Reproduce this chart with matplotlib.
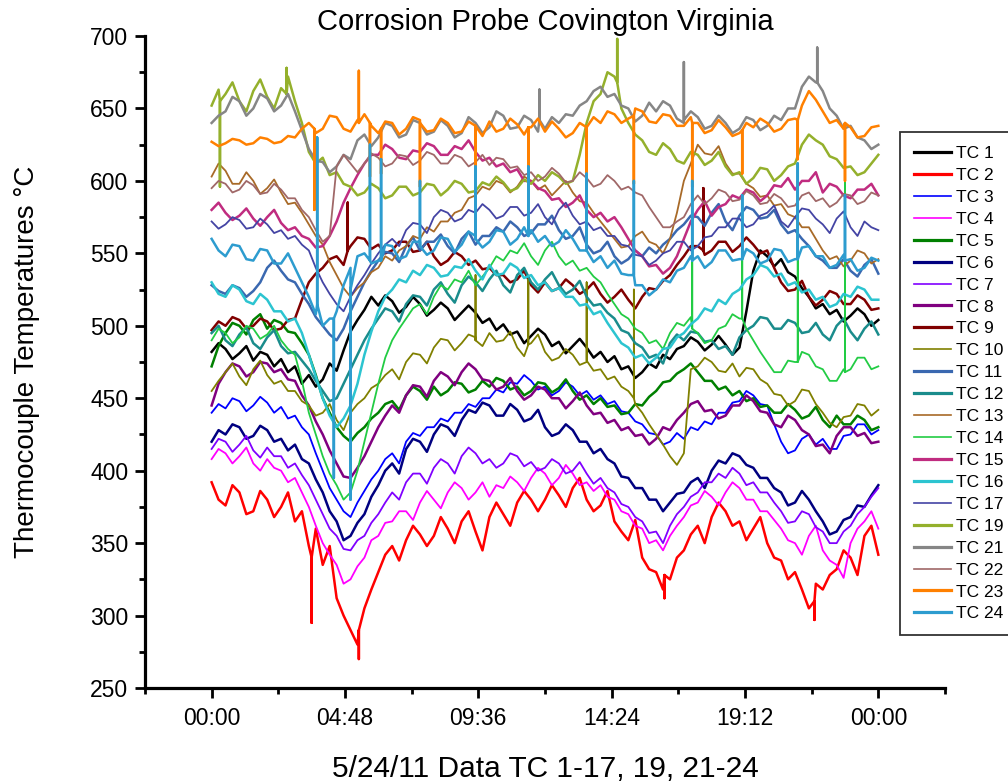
import numpy as np
import matplotlib
matplotlib.use("Agg")
import matplotlib.pyplot as plt
from matplotlib.ticker import FixedLocator, NullFormatter

plt.rcParams['font.family'] = ['Liberation Sans', 'DejaVu Sans']

# quarter-hour readings, hours after midnight 5/24/11
hours = np.arange(0, 24.01, 0.25)

labels = ["TC 1", "TC 2", "TC 3", "TC 4", "TC 5", "TC 6", "TC 7", "TC 8", "TC 9",
          "TC 10", "TC 11", "TC 12", "TC 13", "TC 14", "TC 15", "TC 16", "TC 17",
          "TC 19", "TC 21", "TC 22", "TC 23", "TC 24"]

colors = ["#000000", "#ff0000", "#0000ff", "#ff00ff", "#008000", "#000080", "#8000ff",
          "#800080", "#800000", "#808000", "#3a68b0", "#1a8c8c", "#a86a28", "#22cc44",
          "#c02c80", "#2cc4d0", "#4444a4", "#94b02c", "#868686", "#a06868", "#ff8000",
          "#2d9ccf"]

# heavy / light pen per channel
heavy = [True, True, False, False, True, True, False, True, True, False, True, True,
         False, False, True, True, False, True, True, False, True, True]

tc1 = [482, 488, 484, 477, 481, 486, 476, 482, 480, 472, 477, 468, 472, 460, 466, 458,
       463, 474, 469, 483, 496, 504, 511, 520, 514, 521, 517, 509, 513, 520, 515, 507,
       511, 516, 512, 504, 509, 514, 509, 502, 505, 497, 501, 494, 496, 488, 493, 498,
       494, 486, 489, 481, 486, 491, 485, 478, 482, 475, 479, 470, 472, 464, 468, 474,
       471, 480, 477, 484, 486, 492, 489, 483, 487, 493, 487, 480, 485, 510, 538, 552,
       548, 541, 546, 537, 534, 526, 520, 512, 515, 508, 511, 503, 507, 512, 508, 500,
       504]
tc2 = [392, 380, 376, 390, 385, 370, 372, 386, 380, 368, 375, 385, 365, 372, 348, 360,
       335, 348, 312, 300, 290, 280, 305, 318, 330, 342, 348, 338, 352, 362, 356, 348,
       355, 368, 360, 350, 365, 372, 358, 345, 368, 378, 370, 362, 378, 386, 380, 372,
       380, 390, 383, 375, 388, 395, 380, 372, 376, 386, 365, 358, 352, 366, 340, 332,
       330, 318, 325, 340, 345, 356, 362, 350, 368, 378, 372, 362, 365, 352, 360, 368,
       350, 340, 338, 325, 330, 318, 305, 322, 318, 328, 332, 345, 340, 328, 355, 362,
       342]
tc3 = [440, 446, 443, 450, 448, 441, 445, 451, 447, 440, 444, 436, 438, 430, 425, 412,
       400, 388, 380, 372, 368, 378, 386, 394, 400, 408, 412, 405, 420, 426, 424, 430,
       430, 436, 434, 440, 440, 446, 444, 450, 450, 456, 454, 461, 460, 466, 462, 456,
       458, 452, 455, 461, 458, 452, 455, 449, 452, 446, 448, 441, 440, 434, 432, 426,
       425, 418, 420, 426, 422, 430, 428, 434, 432, 440, 440, 447, 448, 455, 452, 446,
       445, 432, 420, 412, 414, 422, 425, 418, 422, 415, 415, 424, 425, 432, 432, 425,
       428]
tc4 = [408, 415, 412, 405, 410, 416, 405, 400, 408, 402, 400, 392, 395, 385, 375, 362,
       350, 342, 335, 322, 325, 334, 340, 352, 355, 364, 365, 372, 372, 366, 378, 386,
       380, 374, 385, 392, 388, 380, 385, 392, 382, 390, 388, 396, 392, 386, 395, 402,
       398, 390, 395, 404, 398, 390, 392, 386, 390, 382, 380, 372, 370, 362, 360, 350,
       352, 345, 355, 362, 368, 376, 378, 386, 382, 376, 385, 392, 388, 380, 380, 372,
       372, 366, 360, 352, 350, 342, 355, 362, 345, 338, 335, 326, 350, 360, 365, 372,
       360]
tc5 = [472, 486, 495, 502, 500, 494, 504, 508, 498, 504, 502, 496, 495, 488, 480, 466,
       450, 440, 430, 424, 420, 426, 430, 436, 440, 446, 448, 442, 452, 458, 455, 449,
       458, 452, 455, 461, 460, 454, 456, 462, 458, 464, 462, 456, 458, 452, 455, 461,
       460, 454, 457, 463, 455, 449, 452, 446, 450, 444, 445, 439, 440, 446, 445, 451,
       455, 461, 462, 467, 470, 474, 468, 462, 462, 456, 458, 452, 455, 448, 450, 444,
       445, 440, 440, 446, 442, 436, 438, 444, 435, 430, 438, 432, 432, 438, 435, 428,
       430]
tc6 = [420, 428, 425, 432, 430, 422, 424, 431, 428, 420, 422, 414, 418, 408, 405, 394,
       385, 372, 365, 352, 355, 364, 370, 382, 390, 400, 405, 398, 415, 422, 420, 413,
       425, 432, 430, 424, 435, 442, 440, 447, 445, 438, 438, 446, 442, 434, 436, 442,
       430, 424, 426, 432, 428, 420, 420, 412, 415, 408, 405, 396, 395, 388, 388, 380,
       380, 372, 378, 384, 385, 392, 395, 388, 400, 407, 405, 412, 410, 404, 402, 395,
       395, 388, 385, 376, 378, 386, 380, 372, 365, 356, 358, 366, 368, 376, 375, 383,
       390]
tc7 = [415, 422, 420, 413, 418, 424, 414, 409, 416, 410, 410, 402, 405, 397, 390, 380,
       370, 360, 355, 346, 345, 352, 355, 364, 370, 378, 385, 380, 392, 398, 398, 391,
       402, 408, 405, 398, 410, 416, 412, 405, 408, 402, 405, 412, 410, 403, 406, 400,
       402, 408, 405, 398, 400, 406, 398, 391, 395, 388, 385, 377, 375, 368, 365, 357,
       358, 350, 362, 370, 375, 382, 385, 392, 392, 398, 395, 402, 398, 390, 392, 385,
       385, 378, 372, 364, 365, 372, 370, 361, 358, 350, 350, 358, 362, 370, 375, 382,
       388]
tc8 = [445, 460, 468, 474, 472, 465, 468, 475, 474, 468, 470, 463, 462, 452, 445, 434,
       425, 414, 405, 396, 395, 402, 410, 420, 430, 438, 445, 440, 452, 459, 458, 451,
       462, 468, 465, 459, 468, 474, 470, 463, 462, 456, 458, 464, 455, 449, 452, 458,
       456, 450, 450, 443, 448, 454, 445, 439, 440, 433, 435, 428, 430, 424, 425, 418,
       422, 430, 428, 435, 440, 446, 448, 441, 442, 436, 438, 445, 445, 452, 448, 441,
       440, 432, 430, 438, 435, 428, 425, 417, 418, 412, 424, 430, 430, 424, 426, 419,
       420]
tc9 = [497, 503, 500, 506, 504, 498, 500, 505, 503, 497, 498, 504, 505, 518, 530, 536,
       540, 546, 548, 542, 555, 561, 560, 553, 556, 550, 552, 558, 558, 551, 552, 558,
       548, 542, 545, 551, 548, 542, 545, 539, 540, 535, 535, 530, 532, 538, 528, 523,
       530, 524, 526, 532, 528, 522, 525, 530, 522, 516, 520, 525, 518, 512, 520, 526,
       525, 531, 535, 542, 548, 555, 555, 549, 552, 558, 558, 551, 555, 561, 556, 550,
       552, 540, 530, 524, 525, 531, 520, 514, 518, 524, 522, 515, 515, 521, 518, 511,
       512]
tc10 = [455, 462, 468, 474, 465, 459, 470, 476, 466, 460, 462, 455, 455, 448, 445, 438,
        440, 446, 435, 428, 440, 446, 450, 457, 460, 466, 470, 463, 475, 481, 480, 474,
        485, 491, 490, 483, 488, 494, 492, 486, 495, 489, 490, 496, 485, 479, 488, 494,
        482, 476, 478, 484, 480, 473, 475, 469, 470, 463, 465, 458, 455, 446, 440, 432,
        425, 418, 410, 404, 412, 470, 472, 478, 475, 469, 468, 474, 465, 471, 470, 463,
        460, 453, 452, 445, 448, 456, 455, 446, 440, 433, 430, 437, 438, 446, 445, 438,
        442]
tc11 = [528, 524, 522, 528, 526, 520, 524, 530, 540, 545, 538, 532, 530, 522, 515, 506,
        500, 494, 490, 498, 510, 520, 530, 538, 545, 551, 550, 544, 555, 561, 552, 558,
        558, 563, 555, 550, 560, 565, 556, 562, 562, 568, 565, 572, 568, 562, 564, 570,
        570, 576, 566, 560, 562, 568, 556, 550, 552, 558, 548, 543, 546, 552, 548, 554,
        550, 556, 560, 566, 570, 576, 575, 569, 578, 584, 572, 566, 576, 582, 580, 574,
        575, 580, 570, 564, 566, 560, 555, 548, 545, 540, 540, 546, 538, 534, 542, 546,
        536]
tc12 = [495, 500, 490, 486, 494, 499, 488, 484, 492, 497, 486, 481, 482, 476, 470, 462,
        455, 448, 450, 460, 470, 480, 490, 498, 505, 512, 510, 503, 515, 521, 520, 514,
        525, 530, 522, 516, 528, 534, 530, 524, 532, 538, 528, 523, 535, 540, 530, 525,
        532, 537, 528, 522, 525, 531, 520, 514, 515, 509, 505, 497, 495, 488, 485, 478,
        480, 474, 488, 494, 490, 496, 495, 489, 490, 484, 486, 480, 492, 497, 500, 506,
        505, 498, 498, 504, 502, 495, 496, 502, 494, 490, 500, 505, 496, 490, 498, 503,
        494]
tc13 = [603, 612, 607, 598, 598, 606, 600, 591, 595, 601, 592, 584, 585, 578, 570, 562,
        556, 544, 535, 526, 520, 526, 530, 537, 540, 548, 545, 552, 555, 562, 560, 568,
        565, 572, 572, 578, 580, 588, 590, 596, 594, 600, 598, 592, 596, 603, 600, 594,
        597, 590, 595, 600, 592, 586, 585, 578, 572, 566, 560, 554, 555, 562, 565, 558,
        556, 550, 560, 578, 600, 612, 625, 619, 618, 624, 612, 605, 605, 598, 595, 589,
        590, 583, 584, 577, 575, 568, 568, 560, 552, 546, 548, 541, 545, 552, 550, 543,
        546]
tc14 = [490, 498, 495, 488, 492, 500, 498, 491, 494, 500, 490, 484, 480, 462, 440, 425,
        410, 398, 390, 380, 385, 400, 420, 440, 460, 478, 490, 498, 505, 512, 515, 508,
        520, 528, 525, 532, 530, 538, 528, 534, 540, 548, 545, 552, 550, 557, 548, 542,
        552, 558, 548, 542, 545, 538, 540, 534, 530, 522, 515, 508, 505, 498, 495, 488,
        490, 484, 495, 502, 500, 506, 495, 488, 490, 498, 500, 508, 505, 498, 490, 482,
        475, 468, 468, 476, 475, 482, 480, 472, 470, 462, 462, 470, 470, 478, 478, 470,
        472]
tc15 = [580, 585, 578, 573, 576, 581, 574, 569, 575, 580, 571, 566, 568, 562, 560, 554,
        555, 562, 572, 585, 595, 604, 612, 618, 618, 625, 622, 616, 615, 621, 620, 626,
        624, 618, 618, 624, 622, 628, 620, 614, 616, 610, 612, 606, 608, 600, 600, 595,
        593, 587, 588, 582, 585, 590, 580, 575, 578, 572, 575, 568, 560, 552, 548, 541,
        542, 536, 540, 548, 560, 572, 580, 586, 576, 582, 584, 590, 588, 594, 592, 586,
        590, 597, 596, 602, 594, 600, 600, 606, 592, 598, 596, 590, 588, 594, 594, 598,
        590]
tc16 = [530, 522, 520, 528, 525, 517, 515, 522, 518, 510, 510, 503, 505, 495, 480, 465,
        450, 438, 430, 436, 445, 460, 480, 496, 510, 520, 525, 532, 530, 538, 535, 542,
        540, 534, 535, 541, 540, 546, 538, 532, 542, 535, 536, 543, 540, 533, 535, 528,
        530, 524, 526, 520, 520, 514, 515, 508, 510, 502, 495, 488, 485, 478, 480, 474,
        478, 484, 485, 492, 495, 501, 505, 512, 510, 518, 515, 522, 525, 532, 535, 542,
        540, 534, 536, 528, 530, 523, 525, 518, 520, 513, 515, 522, 520, 527, 525, 518,
        518]
tc17 = [572, 567, 570, 575, 573, 567, 568, 574, 570, 564, 566, 560, 562, 556, 552, 540,
        530, 522, 515, 510, 520, 528, 535, 543, 550, 556, 560, 555, 566, 571, 570, 564,
        575, 580, 578, 572, 574, 580, 578, 584, 580, 574, 576, 582, 582, 576, 578, 584,
        575, 570, 580, 585, 576, 570, 572, 566, 568, 562, 562, 556, 555, 549, 548, 542,
        545, 550, 552, 558, 558, 552, 555, 561, 562, 568, 568, 574, 574, 568, 570, 576,
        578, 583, 572, 568, 575, 581, 580, 574, 570, 564, 574, 579, 568, 562, 572, 568,
        566]
tc19 = [652, 663, 660, 668, 655, 648, 662, 670, 658, 650, 664, 672, 655, 640, 620, 612,
        616, 604, 606, 598, 596, 590, 592, 598, 595, 588, 590, 596, 596, 590, 592, 598,
        597, 590, 594, 600, 598, 592, 593, 599, 597, 603, 599, 593, 595, 601, 598, 604,
        600, 606, 603, 598, 600, 618, 640, 655, 660, 675, 672, 650, 640, 632, 628, 620,
        618, 626, 622, 614, 612, 620, 618, 611, 614, 620, 610, 604, 606, 598, 602, 609,
        608, 600, 604, 610, 612, 625, 632, 628, 625, 617, 615, 609, 610, 604, 606, 612,
        618]
tc21 = [640, 645, 648, 658, 655, 645, 650, 660, 657, 648, 652, 660, 648, 635, 622, 614,
        613, 606, 610, 618, 615, 628, 632, 624, 630, 640, 638, 630, 632, 642, 640, 632,
        634, 642, 638, 630, 633, 644, 640, 633, 637, 648, 645, 636, 637, 645, 642, 634,
        636, 644, 640, 646, 645, 652, 655, 662, 665, 658, 660, 652, 650, 641, 645, 654,
        648, 655, 652, 643, 640, 648, 644, 636, 638, 645, 640, 633, 636, 644, 642, 635,
        638, 645, 642, 650, 650, 665, 672, 668, 662, 650, 645, 636, 638, 630, 628, 622,
        625]
tc22 = [595, 600, 598, 592, 594, 600, 597, 591, 592, 598, 594, 588, 588, 580, 575, 566,
        558, 562, 610, 618, 612, 606, 612, 619, 616, 610, 612, 618, 617, 611, 614, 620,
        618, 612, 612, 618, 616, 610, 613, 618, 611, 616, 615, 609, 610, 604, 606, 600,
        603, 609, 605, 599, 600, 606, 602, 596, 598, 604, 600, 594, 596, 592, 590, 582,
        575, 568, 568, 572, 575, 584, 590, 584, 588, 594, 592, 586, 587, 593, 590, 584,
        585, 591, 588, 582, 583, 590, 592, 586, 588, 582, 585, 591, 590, 584, 586, 592,
        590]
tc23 = [627, 624, 626, 629, 628, 625, 626, 630, 629, 626, 627, 631, 630, 636, 640, 633,
        636, 645, 644, 636, 634, 642, 646, 638, 633, 641, 640, 632, 636, 644, 642, 634,
        635, 643, 640, 633, 634, 641, 638, 631, 641, 634, 636, 643, 639, 632, 637, 643,
        634, 641, 636, 630, 633, 640, 637, 644, 640, 648, 646, 640, 643, 650, 648, 641,
        640, 646, 645, 638, 638, 644, 640, 633, 635, 642, 637, 631, 633, 640, 637, 643,
        640, 634, 636, 642, 643, 652, 662, 656, 648, 640, 642, 636, 637, 630, 631, 637,
        638]
tc24 = [560, 552, 548, 556, 555, 546, 545, 553, 552, 543, 543, 550, 540, 530, 520, 508,
        500, 505, 510, 528, 540, 548, 550, 543, 545, 556, 555, 546, 548, 558, 558, 549,
        552, 561, 560, 551, 556, 565, 562, 554, 558, 566, 565, 556, 560, 568, 566, 558,
        562, 555, 558, 566, 560, 552, 552, 544, 548, 540, 545, 536, 535, 528, 528, 521,
        525, 532, 530, 538, 540, 548, 548, 540, 544, 552, 552, 545, 546, 553, 550, 543,
        545, 553, 552, 544, 546, 554, 555, 548, 548, 540, 542, 549, 546, 538, 540, 547,
        545]

series = [tc1, tc2, tc3, tc4, tc5, tc6, tc7, tc8, tc9, tc10, tc11, tc12, tc13, tc14,
          tc15, tc16, tc17, tc19, tc21, tc22, tc23, tc24]

# short excursions (soot-blower events): (hour, level before/after, extreme reading)
spikes = {
    "TC 2": [(3.6, 340, 295), (5.3, 290, 270), (16.3, 328, 312), (21.7, 310, 297)],
    "TC 9": [(4.9, 552, 585), (17.7, 552, 595)],
    "TC 10": [(9.5, 490, 535), (11.4, 487, 532), (13.5, 476, 530), (15.2, 450, 525)],
    "TC 14": [(17.3, 498, 590), (19.1, 505, 585), (21.1, 475, 600), (22.8, 468, 607)],
    "TC 19": [(0.3, 655, 596), (2.7, 660, 678), (14.6, 668, 698)],
    "TC 21": [(11.8, 642, 663), (17.0, 642, 682), (21.8, 668, 692)],
    "TC 23": [(3.7, 636, 580), (5.3, 640, 676), (5.7, 640, 603), (6.1, 636, 605),
              (7.5, 640, 596), (9.5, 638, 607), (11.4, 637, 607), (13.5, 637, 605),
              (15.2, 645, 598), (17.3, 640, 596), (19.1, 635, 605), (21.1, 642, 615),
              (22.8, 640, 600)],
    "TC 24": [(3.8, 515, 630), (4.4, 505, 395), (5.0, 525, 380), (5.7, 545, 625),
              (6.1, 545, 615), (7.5, 555, 600), (9.5, 560, 610), (11.4, 562, 610),
              (13.5, 552, 605), (15.2, 535, 600), (17.3, 545, 600), (19.1, 546, 590),
              (21.1, 546, 612), (22.8, 545, 590)],
}

tick_hours = [0, 4.8, 9.6, 14.4, 19.2, 24]
tick_labels = ["00:00", "04:48", "09:36", "14:24", "19:12", "00:00"]

fig = plt.figure(figsize=(10.08, 7.83), dpi=100)
ax = fig.add_axes([0.1438, 0.1213, 0.7937, 0.8327])

for name, vals, col, hv in zip(labels, series, colors, heavy):
    t = list(hours)
    v = list(vals)
    for (th, base, peak) in spikes.get(name, []):
        t += [th, th, th]
        v += [base, peak, base]
    t = np.array(t)
    v = np.array(v, dtype=float)
    order = np.argsort(t, kind="stable")
    ax.plot(t[order], v[order], color=col, lw=1.8 if hv else 1.3, label=name)

ax.set_xlim(-2.4, 26.4)
ax.set_ylim(250, 700)
ax.xaxis.set_major_locator(FixedLocator(tick_hours))
ax.set_xticklabels(tick_labels)
ax.xaxis.set_minor_locator(FixedLocator([-2.4, 2.4, 7.2, 12.0, 16.8, 21.6, 26.4]))
ax.yaxis.set_major_locator(FixedLocator(np.arange(250, 701, 50)))
ax.yaxis.set_minor_locator(FixedLocator(np.arange(275, 700, 50)))
ax.xaxis.set_minor_formatter(NullFormatter())

for side in ("top", "right"):
    ax.spines[side].set_visible(False)
for side in ("left", "bottom"):
    ax.spines[side].set_linewidth(2.3)
ax.tick_params(which="major", direction="out", length=7, width=2, labelsize=16.5)
ax.tick_params(axis="x", which="major", pad=7)
ax.tick_params(axis="y", which="major", pad=5)
ax.tick_params(which="minor", direction="out", length=4, width=2)

ax.set_title("Corrosion Probe Covington Virginia", fontsize=21, pad=3)
ax.set_xlabel("5/24/11 Data TC 1-17, 19, 21-24", fontsize=21.5, labelpad=18)
ax.set_ylabel("Thermocouple Temperatures \u00b0C", fontsize=20, labelpad=36)

leg = fig.legend(loc="upper left", bbox_to_anchor=(900 / 1008, 1 - 132 / 783),
                 fontsize=12.5, frameon=True, fancybox=False, edgecolor="black",
                 handlelength=2.15, handletextpad=0.25, labelspacing=0.39,
                 borderpad=0.8, borderaxespad=0.0)
leg.get_frame().set_linewidth(1.3)
for line, hv in zip(leg.get_lines(), heavy):
    line.set_linewidth(2.3 if hv else 1.2)

fig.savefig("out.png", dpi=100)
